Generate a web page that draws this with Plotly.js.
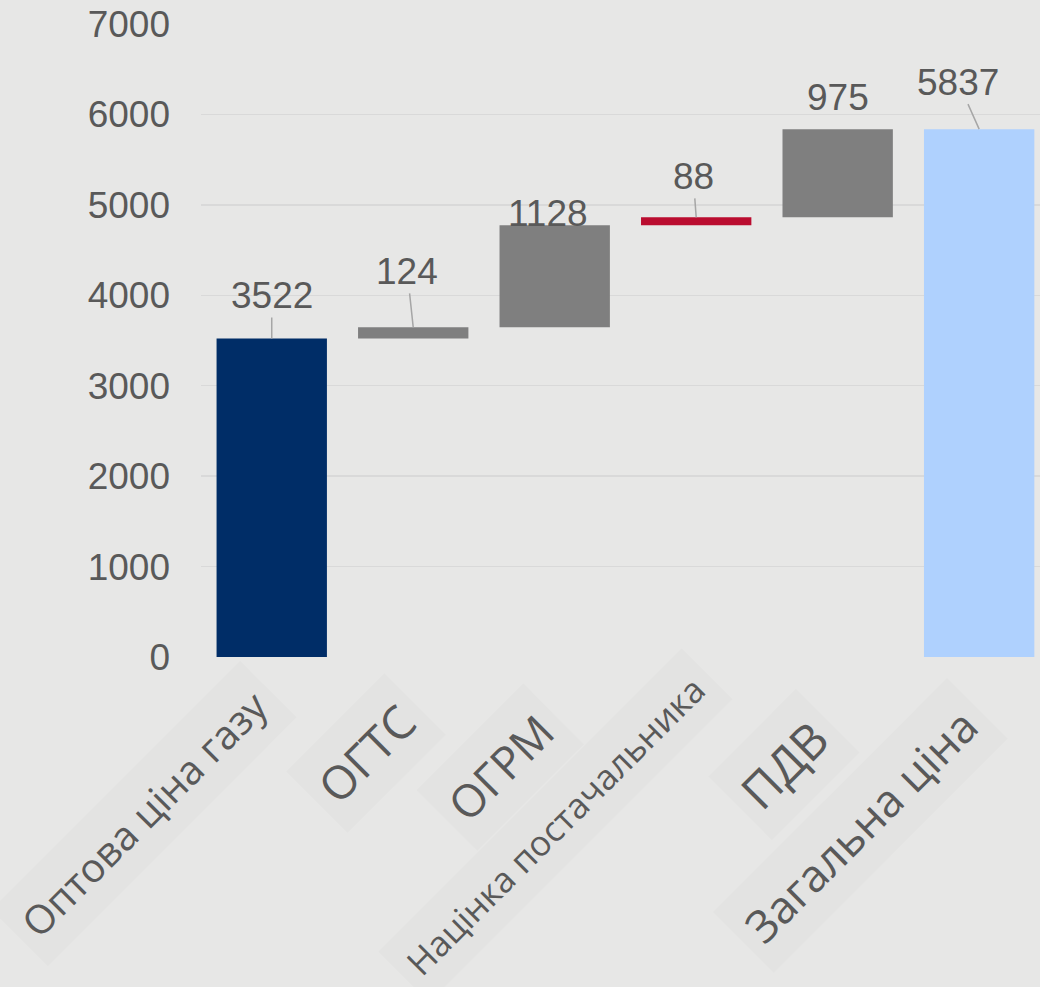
<!DOCTYPE html>
<html>
<head>
<meta charset="utf-8">
<script src="https://cdn.plot.ly/plotly-3.0.1.min.js"></script>
<style>html,body{margin:0;padding:0;background:#e7e7e6;}#chart{width:1040px;height:987px;}</style>
</head>
<body>
<div id="chart"></div>
<script>
// ---- data ----
var categories = ['Оптова ціна газу', 'ОГТС', 'ОГРМ', 'Націнка постачальника', 'ПДВ', 'Загальна ціна'];
var values = [3522, 124, 1128, 88, 975, 5837];
var measures = ['absolute', 'relative', 'relative', 'relative', 'relative', 'total'];
var yTicks = [0, 1000, 2000, 3000, 4000, 5000, 6000, 7000];

// ---- styles (kept apart from data) ----
var barColors = ['#002d67', '#7f7f7f', '#7f7f7f', '#ba0c2f', '#7f7f7f', '#afd1fe'];
var labelOffsets = [[0, -43], [-6, -56], [-7, -12], [-3, -41], [0, -32], [-21, -47]];
var labelLine = [true, true, false, true, false, true];
// category label placement (pixel shift of the rotated label centre from the tick foot) and size
var catShift = [[-128, -156], [-47, -96], [-55, -110], [-141, -168], [-54, -107], [-119, -168]];
var catSize = [40, 46, 45, 35, 48, 45];

// waterfall geometry derived from the values
var bases = [], heights = [], tops = [];
var running = 0;
values.forEach(function (v, i) {
  if (measures[i] === 'relative') {
    bases.push(running); heights.push(v); running += v;
  } else {
    bases.push(0); heights.push(v); running = v;
  }
  tops.push(running);
});

var xIdx = categories.map(function (c, i) { return i; });

var trace = {
  type: 'bar',
  x: xIdx,
  y: heights,
  base: bases,
  marker: { color: barColors },
  width: 0.78,
  hoverinfo: 'skip',
  showlegend: false
};

var annotations = [];
values.forEach(function (v, i) {
  annotations.push({
    x: i, y: tops[i], xref: 'x', yref: 'y',
    text: String(v),
    showarrow: true,
    arrowhead: 0,
    arrowwidth: 1.5,
    arrowcolor: labelLine[i] ? '#a6a6a6' : 'rgba(0,0,0,0)',
    ax: labelOffsets[i][0], ay: labelOffsets[i][1],
    font: { family: 'Liberation Sans, Arial, sans-serif', size: 37, color: '#595959' }
  });
});
categories.forEach(function (c, i) {
  annotations.push({
    x: i, y: 0, xref: 'x', yref: 'y',
    text: c,
    showarrow: false,
    textangle: -45,
    xanchor: 'center', yanchor: 'middle',
    xshift: catShift[i][0], yshift: catShift[i][1],
    bgcolor: 'rgba(0,0,0,0.015)',
    borderpad: 12,
    font: { family: 'Open Sans, sans-serif', size: catSize[i], color: '#595959' }
  });
});

var layout = {
  width: 1040, height: 987,
  paper_bgcolor: '#e7e7e6',
  plot_bgcolor: '#e7e7e6',
  margin: { l: 201, r: 0, t: 24, b: 330 },
  bargap: 0.22,
  xaxis: {
    type: 'linear',
    range: [-0.5, 5.43],
    showgrid: false, zeroline: false, showticklabels: false, ticks: '',
    fixedrange: true
  },
  yaxis: {
    range: [0, 7000],
    tickvals: yTicks,
    ticktext: yTicks.map(String),
    showgrid: true, gridcolor: '#d9d9d9', gridwidth: 1.5,
    zeroline: false,
    ticks: '',
    ticklabelstandoff: 30,
    tickfont: { family: 'Liberation Sans, Arial, sans-serif', size: 37, color: '#595959' },
    fixedrange: true
  },
  annotations: annotations,
  showlegend: false
};

Plotly.newPlot('chart', [trace], layout, { staticPlot: true });
</script>
</body>
</html>
